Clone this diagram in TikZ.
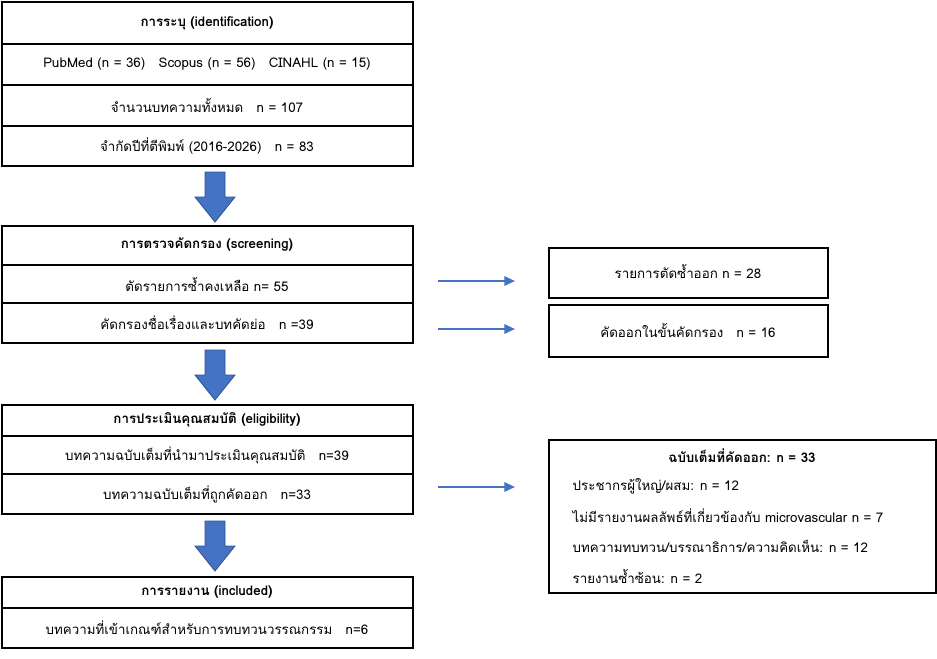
\documentclass[tikz,border=0pt]{standalone}
\usepackage{fontspec}
\setmainfont[Script=Thai]{Loma}
\usetikzlibrary{arrows.meta}
\definecolor{arrowblue}{HTML}{4472C4}
\definecolor{arrowedge}{HTML}{2F528F}
\newcommand{\blockarrow}[2]{%
	\draw[fill=arrowblue,draw=arrowedge,line width=0.6pt]
		(#1-10,#2) -- (#1+10,#2) -- (#1+10,#2+25) -- (#1+20,#2+25)
		-- (#1,#2+50) -- (#1-20,#2+25) -- (#1-10,#2+25) -- cycle;}
\begin{document}
\begin{tikzpicture}[x=0.75pt,y=-0.75pt,
		font=\fontsize{10}{12}\selectfont,
		cell/.style={draw,line width=0.8pt},
		head/.style={font=\fontsize{10}{12}\selectfont\bfseries},
		side/.style={-{Triangle[length=8pt,width=7pt]},draw=arrowblue,line width=1.6pt}
	]
	\useasboundingbox (0,0) rectangle (937,658);
	% identification
	\draw[cell] (2,2) rectangle (413,44) (2,44) rectangle (413,85)
		(2,85) rectangle (413,126) (2,126) rectangle (413,166);
	\node[head] (idt) at (207,23) {การระบุ (identification)};
	\node (db) at (207,64) {PubMed (n = 36)\quad Scopus (n = 56)\quad CINAHL (n = 15)};
	\node (all) at (207,105) {จำนวนบทความทั้งหมด\quad n = 107};
	\node (yr) at (207,146) {จำกัดปีที่ตีพิมพ์ (2016-2026)\quad n = 83};
	\blockarrow{215}{172}
	% screening
	\draw[cell] (2,226) rectangle (413,265) (2,265) rectangle (413,303)
		(2,303) rectangle (413,343);
	\node[head] (scr) at (207,245) {การตรวจคัดกรอง (screening)};
	\node (dup) at (207,284) {ตัดรายการซ้ำคงเหลือ n= 55};
	\node (ttl) at (207,323) {คัดกรองชื่อเรื่องและบทคัดย่อ\quad n =39};
	\blockarrow{215}{350}
	% eligibility
	\draw[cell] (2,405) rectangle (413,436) (2,436) rectangle (413,474)
		(2,474) rectangle (413,514);
	\node[head] (elg) at (207,420) {การประเมินคุณสมบัติ (eligibility)};
	\node (ft) at (207,455) {บทความฉบับเต็มที่นำมาประเมินคุณสมบัติ\quad n=39};
	\node (ex) at (207,494) {บทความฉบับเต็มที่ถูกคัดออก\quad n=33};
	\blockarrow{215}{521}
	% included
	\draw[cell] (2,577) rectangle (413,608) (2,608) rectangle (413,648);
	\node[head] (inc) at (207,592) {การรายงาน (included)};
	\node (fin) at (207,628) {บทความที่เข้าเกณฑ์สำหรับการทบทวนวรรณกรรม\quad n=6};
	% excluded boxes
	\draw[cell] (549,248) rectangle (828,298) (549,305) rectangle (828,357)
		(549,440) rectangle (936,593);
	\node (rm) at (688,271) {รายการตัดซ้ำออก n = 28};
	\node (sc) at (688,330) {คัดออกในขั้นคัดกรอง\quad n = 16};
	\node[head] (xt) at (742,456) {ฉบับเต็มที่คัดออก: n = 33};
	\node[anchor=west] (r1) at (568,486) {ประชากรผู้ใหญ่/ผสม: n = 12};
	\node[anchor=west] (r2) at (568,516) {ไม่มีรายงานผลลัพธ์ที่เกี่ยวข้องกับ microvascular n = 7};
	\node[anchor=west] (r3) at (568,546) {บทความทบทวน/บรรณาธิการ/ความคิดเห็น: n = 12};
	\node[anchor=west] (r4) at (568,576) {รายงานซ้ำซ้อน: n = 2};
	% side arrows
	\coordinate (s1) at (438,281); \coordinate (e1) at (515,281);
	\coordinate (s2) at (438,329); \coordinate (e2) at (515,329);
	\coordinate (s3) at (438,487); \coordinate (e3) at (515,487);
	\draw[side] (s1) -- (e1);
	\draw[side] (s2) -- (e2);
	\draw[side] (s3) -- (e3);
\end{tikzpicture}
\end{document}
